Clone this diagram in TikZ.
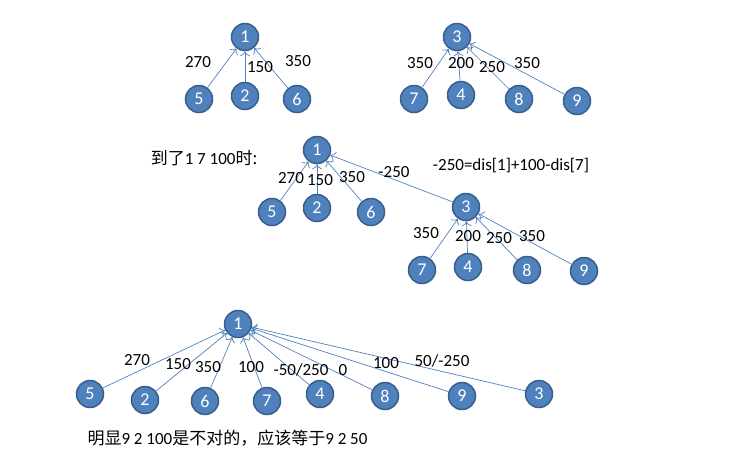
\documentclass[tikz,border=0pt]{standalone}
\usepackage{fontspec}
\setmainfont{Carlito}
\newfontfamily\cjk{Noto Sans CJK SC}
\usetikzlibrary{arrows.meta}
\definecolor{vfill}{RGB}{79,129,189}
\definecolor{vline}{RGB}{56,93,138}
\definecolor{eline}{RGB}{79,129,189}
\begin{document}
\begin{tikzpicture}[x=1pt,y=-1pt,
    vert/.style={circle,fill=vfill,draw=vline,line width=1.5pt,minimum size=27pt,inner sep=0pt,text=white,font=\fontsize{18}{18}\selectfont},
    edge/.style={-{To[length=5pt,width=10pt]},draw=eline,line width=0.7pt},
    wt/.style={font=\fontsize{17}{17}\selectfont},
    txt/.style={font=\fontsize{17}{17}\selectfont}]
    \useasboundingbox (0,0) rectangle (741,475);
    % first tree
    \node[vert] (a1) at (245,37) {1};
    \node[vert] (a5) at (199,99) {5};
    \node[vert] (a2) at (245,96) {2};
    \node[vert] (a6) at (297,99) {6};
    \draw[edge] (a5)--(a1);
    \draw[edge] (a2)--(a1);
    \draw[edge] (a6)--(a1);
    \node[wt] (w1) at (198,62) {270};
    \node[wt] (w2) at (260,67) {150};
    \node[wt] (w3) at (298,61) {350};
    % second tree
    \node[vert] (b3) at (457,37) {3};
    \node[vert] (b7) at (414,99) {7};
    \node[vert] (b4) at (461,95) {4};
    \node[vert] (b8) at (519,99) {8};
    \node[vert] (b9) at (577,101) {9};
    \draw[edge] (b7)--(b3);
    \draw[edge] (b4)--(b3);
    \draw[edge] (b8)--(b3);
    \draw[edge] (b9)--(b3);
    \node[wt] (w4) at (420,63) {350};
    \node[wt] (w5) at (461,63) {200};
    \node[wt] (w6) at (492,67) {250};
    \node[wt] (w7) at (527,63) {350};
    % merged trees
    \node[txt] (t1) at (204,158) {{\cjk 到了}1 7 100{\cjk 时:}};
    \node[vert] (c1) at (317,150) {1};
    \node[vert] (c5) at (272,212) {5};
    \node[vert] (c2) at (317,208) {2};
    \node[vert] (c6) at (371,212) {6};
    \node[vert] (c3) at (466,207) {3};
    \node[vert] (c7) at (422,270) {7};
    \node[vert] (c4) at (468,267) {4};
    \node[vert] (c8) at (527,270) {8};
    \node[vert] (c9) at (584,271) {9};
    \draw[edge] (c5)--(c1);
    \draw[edge] (c2)--(c1);
    \draw[edge] (c6)--(c1);
    \draw[edge] (c3)--(c1);
    \draw[edge] (c7)--(c3);
    \draw[edge] (c4)--(c3);
    \draw[edge] (c8)--(c3);
    \draw[edge] (c9)--(c3);
    \node[wt] (w8) at (291,178) {270};
    \node[wt] (w9) at (320,180) {150};
    \node[wt] (w10) at (352,177) {350};
    \node[wt] (w11) at (394,172) {-250};
    \node[wt] (w12) at (511,166) {-250=dis[1]+100-dis[7]};
    \node[wt] (w13) at (426,233) {350};
    \node[wt] (w14) at (468,236) {200};
    \node[wt] (w15) at (499,238) {250};
    \node[wt] (w16) at (532,236) {350};
    % after compression
    \node[vert] (d1) at (238,324) {1};
    \node[vert] (d5) at (90,394) {5};
    \node[vert] (d2) at (145,400) {2};
    \node[vert] (d6) at (205,401) {6};
    \node[vert] (d7) at (267,401) {7};
    \node[vert] (d4) at (320,394) {4};
    \node[vert] (d8) at (385,396) {8};
    \node[vert] (d9) at (462,396) {9};
    \node[vert] (d3) at (539,394) {3};
    \foreach \v in {d5,d2,d6,d7,d4,d8,d9,d3}
      \draw[edge] (\v)--(d1);
    \node[wt] (w17) at (137,360) {270};
    \node[wt] (w18) at (178,364) {150};
    \node[wt] (w19) at (208,367) {350};
    \node[wt] (w20) at (251,367) {100};
    \node[wt] (w21) at (301,370) {-50/250};
    \node[wt] (w22) at (343,370) {0};
    \node[wt] (w23) at (386,363) {100};
    \node[wt] (w24) at (442,361) {50/-250};
    \node[txt,anchor=west] (t2) at (84,438) {{\cjk 明显}9 2 100{\cjk 是不对的，应该等于}9 2 50};
\end{tikzpicture}
\end{document}
